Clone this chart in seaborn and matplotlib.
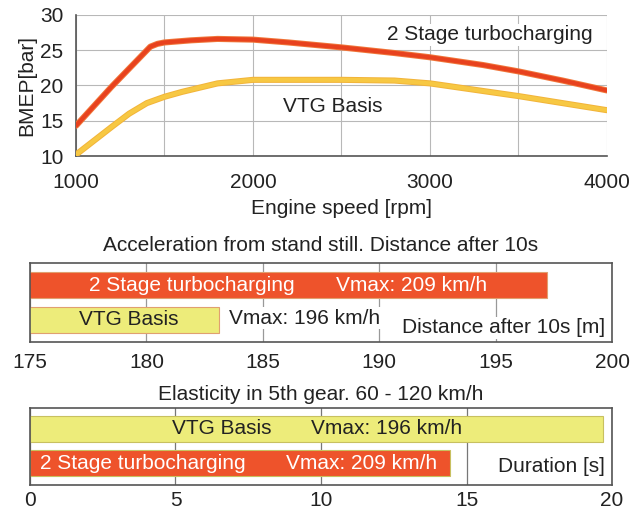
import numpy as np
import pandas as pd
import matplotlib
matplotlib.use("Agg")
import matplotlib.pyplot as plt
import matplotlib.patheffects as pe
import seaborn as sns

# -------------------------
# Data
# -------------------------
rpm_2stage = [1000, 1200, 1420, 1460, 1500, 1650, 1800, 2000, 2200, 2500,
              2800, 3000, 3300, 3500, 3750, 4000]
bmep_2stage = [14.3, 19.8, 25.5, 25.9, 26.1, 26.4, 26.6, 26.5, 26.1, 25.4,
               24.6, 24.0, 22.9, 22.0, 20.7, 19.3]

rpm_vtg = [1000, 1200, 1300, 1400, 1500, 1600, 1800, 2000, 2500, 2800,
           3000, 3250, 3500, 3750, 4000]
bmep_vtg = [10.2, 14.1, 16.0, 17.5, 18.4, 19.1, 20.3, 20.8, 20.8, 20.7,
            20.3, 19.4, 18.5, 17.5, 16.5]

accel_labels = ["2 Stage turbocharging", "VTG Basis"]
accel_distance = [197.2, 183.1]

elast_labels = ["VTG Basis", "2 Stage turbocharging"]
elast_duration = [19.7, 14.45]

RED_LINE = "#E8421E"
YEL_LINE = "#F7C843"
RED_BAR = "#EE532B"
YEL_BAR = "#EDEC7A"
TXT = "#222222"
GRID = "#B8B8B8"

sns.set_style("white")
plt.rcParams["font.family"] = ["Liberation Sans", "DejaVu Sans"]
plt.rcParams["font.size"] = 15

fig = plt.figure(figsize=(6.35, 5.15), dpi=100)

# -------------------------
# BMEP curves
# -------------------------
ax1 = fig.add_axes([0.1197, 0.697, 0.836, 0.274])

df_red = pd.DataFrame({"rpm": rpm_2stage, "bmep": bmep_2stage})
df_yel = pd.DataFrame({"rpm": rpm_vtg, "bmep": bmep_vtg})

sns.lineplot(data=df_yel, x="rpm", y="bmep", ax=ax1, color=YEL_LINE, lw=3.0,
             path_effects=[pe.Stroke(linewidth=4.4, foreground="#F2B43A"), pe.Normal()],
             zorder=3)
sns.lineplot(data=df_red, x="rpm", y="bmep", ax=ax1, color=RED_LINE, lw=3.0,
             path_effects=[pe.Stroke(linewidth=4.4, foreground="#F0763A"), pe.Normal()],
             zorder=4)

ax1.set_xlim(1000, 4000)
ax1.set_ylim(10, 30)
ax1.set_xticks([1000, 2000, 3000, 4000])
ax1.set_xticks([1500, 2500, 3500], minor=True)
ax1.set_yticks([10, 15, 20, 25, 30])
ax1.grid(True, which="both", color=GRID, lw=0.8)
ax1.tick_params(which="both", length=0, labelsize=15, colors=TXT)
ax1.tick_params(axis="x", pad=12)
ax1.tick_params(axis="y", pad=9)
for s in ["top", "right"]:
    ax1.spines[s].set_visible(False)
for s in ["left", "bottom"]:
    ax1.spines[s].set_color("#555555")
    ax1.spines[s].set_linewidth(1.2)
ax1.set_xlabel("Engine speed [rpm]", fontsize=15, color=TXT, labelpad=5)
ax1.set_ylabel("BMEP[bar]", fontsize=15, color=TXT, labelpad=3)

ax1.text(3920, 27.2, "2 Stage turbocharging", ha="right", va="center",
         fontsize=15, color=TXT, zorder=5,
         bbox=dict(facecolor="white", edgecolor="none", pad=1))
ax1.text(2170, 17.0, "VTG Basis", ha="left", va="center", fontsize=15,
         color=TXT, zorder=5)

# -------------------------
# Acceleration bars
# -------------------------
ax2 = fig.add_axes([0.0472, 0.3359, 0.9166, 0.1534])
sns.barplot(x=accel_distance, y=accel_labels, hue=accel_labels,
            palette=[RED_BAR, YEL_BAR], saturation=1, orient="h", width=0.75,
            edgecolor=["#E0A070", "#C8C060"], linewidth=0.8,
            legend=False, ax=ax2, zorder=2)
ax2.set_xlim(175, 200)
ax2.set_ylim(1.63, -0.63)
ax2.set_xticks([175, 180, 185, 190, 195, 200])
ax2.set_yticks([])
ax2.set_ylabel("")
ax2.grid(True, axis="x", color="#999999", lw=0.9, zorder=0)
ax2.set_axisbelow(True)
ax2.tick_params(length=0, labelsize=15, colors=TXT, pad=8)
for s in ax2.spines.values():
    s.set_color("#555555")
    s.set_linewidth(1.2)
ax2.set_title("Acceleration from stand still. Distance after 10s",
              fontsize=15, color=TXT, pad=9)

ax2.text(181.96, 0, "2 Stage turbocharging", ha="center", va="center",
         color="white", fontsize=15, zorder=5)
ax2.text(191.4, 0, "Vmax: 209 km/h", ha="center", va="center",
         color="white", fontsize=15, zorder=5)
ax2.text(179.25, 1, "VTG Basis", ha="center", va="center",
         color=TXT, fontsize=15, zorder=5)
ax2.text(186.8, 0.95, "Vmax: 196 km/h", ha="center", va="center",
         color=TXT, fontsize=15, zorder=5,
         bbox=dict(facecolor="white", edgecolor="none", pad=1))
ax2.text(199.7, 1.22, "Distance after 10s [m]", ha="right", va="center",
         color=TXT, fontsize=15, zorder=5,
         bbox=dict(facecolor="white", edgecolor="none", pad=1))

# -------------------------
# Elasticity bars
# -------------------------
ax3 = fig.add_axes([0.0472, 0.0583, 0.9166, 0.1495])
sns.barplot(x=elast_duration, y=elast_labels, hue=elast_labels,
            palette=[YEL_BAR, RED_BAR], saturation=1, orient="h", width=0.75,
            edgecolor=["#C8C060", "#E0A070"], linewidth=0.8,
            legend=False, ax=ax3, zorder=2)
ax3.set_xlim(0, 20)
ax3.set_ylim(1.63, -0.6)
ax3.set_xticks([0, 5, 10, 15, 20])
ax3.set_yticks([])
ax3.set_ylabel("")
ax3.grid(True, axis="x", color="#777777", lw=0.9, zorder=0)
ax3.set_axisbelow(True)
ax3.tick_params(length=0, labelsize=15, colors=TXT, pad=4)
for s in ax3.spines.values():
    s.set_color("#555555")
    s.set_linewidth(1.2)
ax3.set_title("Elasticity in 5th gear. 60 - 120 km/h",
              fontsize=15, color=TXT, pad=6)

ax3.text(6.6, 0, "VTG Basis", ha="center", va="center",
         color=TXT, fontsize=15, zorder=5)
ax3.text(12.26, 0, "Vmax: 196 km/h", ha="center", va="center",
         color=TXT, fontsize=15, zorder=5)
ax3.text(3.87, 1, "2 Stage turbocharging", ha="center", va="center",
         color="white", fontsize=15, zorder=5)
ax3.text(11.4, 1, "Vmax: 209 km/h", ha="center", va="center",
         color="white", fontsize=15, zorder=5)
ax3.text(19.75, 1.1, "Duration [s]", ha="right", va="center",
         color=TXT, fontsize=15, zorder=5)

fig.savefig("out.png", dpi=100)
